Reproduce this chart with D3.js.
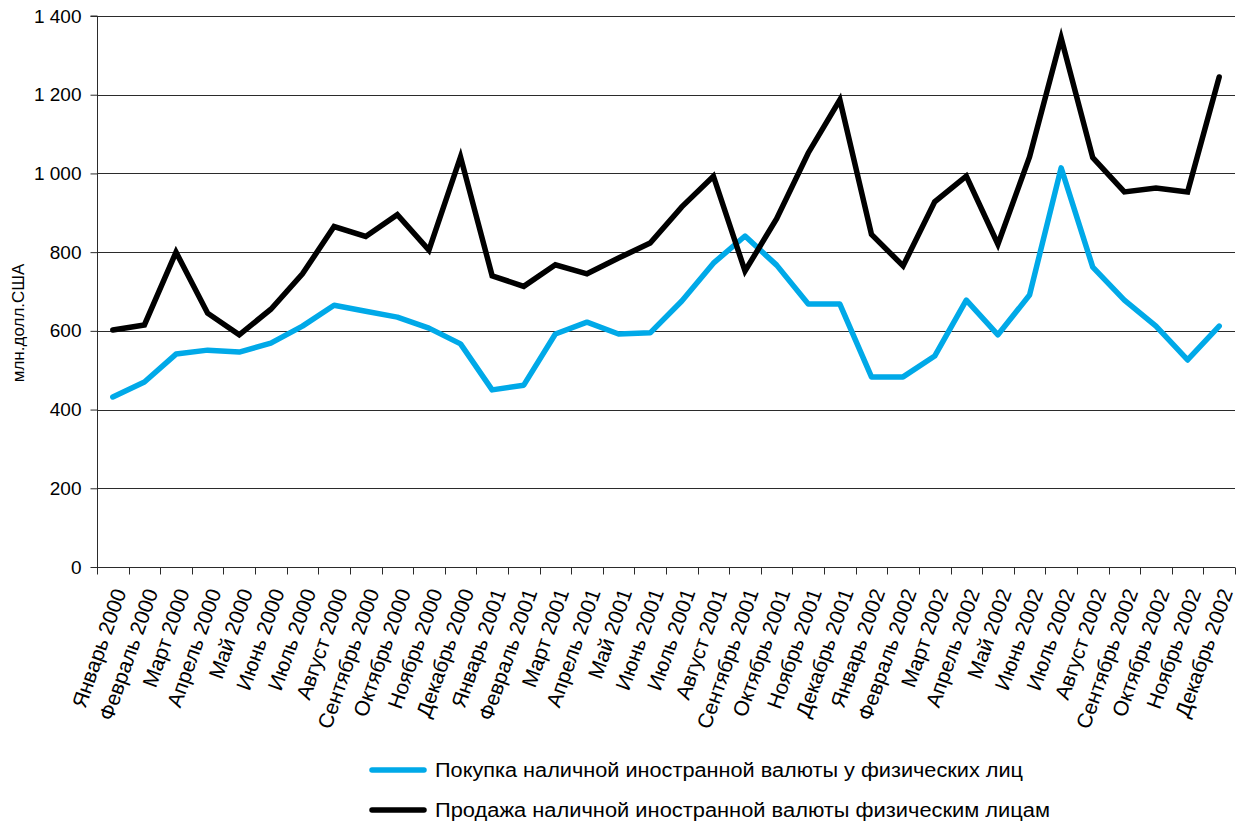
<!DOCTYPE html>
<html>
<head>
<meta charset="utf-8">
<script src="https://cdn.jsdelivr.net/npm/d3@7"></script>
<style>
  body { margin: 0; background: #fff; }
  svg { display: block; font-family: "Liberation Sans", Arial, Helvetica, sans-serif; }
</style>
</head>
<body>
<div id="chart"></div>
<script>
// Months and years for the category axis
const months = ["Январь", "Февраль", "Март", "Апрель", "Май", "Июнь",
                "Июль", "Август", "Сентябрь", "Октябрь", "Ноябрь", "Декабрь"];
const years = [2000, 2001, 2002];
const categories = years.flatMap(y => months.map(m => m + " " + y));

// Покупка наличной иностранной валюты у физических лиц (blue)
const buyValues = [432, 470, 541, 551, 546, 569, 612, 665, 650, 635, 607, 567,
                   450, 462, 592, 622, 592, 595, 676, 772, 841, 767, 668, 668,
                   483, 483, 536, 678, 590, 691, 1014, 762, 678, 612, 526, 612];

// Продажа наличной иностранной валюты физическим лицам (black)
const sellValues = [602, 615, 800, 645, 590, 655, 745, 865, 840, 895, 805, 1042,
                    740, 713, 768, 745, 785, 823, 915, 993, 752, 885, 1052, 1187,
                    845, 765, 928, 993, 820, 1042, 1344, 1040, 953, 963, 953, 1245];

const yTicks = [0, 200, 400, 600, 800, 1000, 1200, 1400];
const seriesNames = ["Покупка наличной иностранной валюты у физических лиц",
                     "Продажа наличной иностранной валюты физическим лицам"];
const titleText = "Покупка и продажа наличной иностранной валюты";

const width = 1239, height = 823;
const margin = { left: 97, right: 4, top: 16, bottom: 256 };
const blue = "#00a9e8";

const svg = d3.select("#chart").append("svg")
    .attr("width", width)
    .attr("height", height);

// Title is mostly cropped off at the top of the reference
svg.append("text")
    .attr("x", 623)
    .attr("y", -6)
    .attr("text-anchor", "middle")
    .attr("font-size", 22)
    .attr("font-weight", "bold")
    .attr("fill", blue)
    .text(titleText);

const x = d3.scaleBand()
    .domain(categories)
    .range([margin.left, width - margin.right]);

const y = d3.scaleLinear()
    .domain([0, 1400])
    .range([height - margin.bottom, margin.top]);

// Grid lines
svg.append("g")
    .selectAll("line")
    .data(yTicks.filter(d => d > 0))
    .join("line")
    .attr("x1", margin.left)
    .attr("x2", width - margin.right)
    .attr("y1", d => Math.round(y(d)) + 0.5)
    .attr("y2", d => Math.round(y(d)) + 0.5)
    .attr("stroke", "#2b2b2b")
    .attr("stroke-width", 1);

// Y axis
const yAxis = svg.append("g")
    .attr("transform", `translate(${margin.left + 0.5},0)`)
    .call(d3.axisLeft(y)
        .tickValues(yTicks)
        .tickSize(7)
        .tickPadding(9)
        .tickFormat(d => d3.format(",")(d).replace(",", " ")));
yAxis.select(".domain").attr("stroke", "#2b2b2b").attr("d", `M-7,${y(1400)}H0V${y(0)}`);
yAxis.selectAll(".tick line").attr("stroke", "#2b2b2b");
yAxis.selectAll(".tick text")
    .attr("font-size", 19)
    .attr("fill", "#000")
    .attr("font-family", "Liberation Sans, Arial, sans-serif");

// X axis with ticks on category boundaries
const xAxisG = svg.append("g")
    .attr("transform", `translate(0,${Math.round(y(0)) + 0.5})`);
xAxisG.append("line")
    .attr("x1", margin.left)
    .attr("x2", width - margin.right)
    .attr("stroke", "#2b2b2b");
xAxisG.selectAll(".xtick")
    .data(categories.concat(["end"]))
    .join("line")
    .attr("x1", (d, i) => Math.round(margin.left + i * x.bandwidth()) + 0.5)
    .attr("x2", (d, i) => Math.round(margin.left + i * x.bandwidth()) + 0.5)
    .attr("y1", 0)
    .attr("y2", 7)
    .attr("stroke", "#2b2b2b");
xAxisG.selectAll(".xlabel")
    .data(categories)
    .join("text")
    .attr("transform", d => `translate(${x(d) + x.bandwidth() / 2 + 7},${22}) rotate(-70.5)`)
    .attr("text-anchor", "end")
    .attr("dy", "0.35em")
    .attr("font-size", 21)
    .attr("fill", "#000")
    .text(d => d);

// Y axis title
svg.append("text")
    .attr("transform", `translate(24,${323}) rotate(-90)`)
    .attr("text-anchor", "middle")
    .attr("font-size", 17)
    .attr("fill", "#000")
    .text("млн.долл.США");

// Lines
const line = d3.line()
    .x((d, i) => x(categories[i]) + x.bandwidth() / 2)
    .y(d => y(d));

svg.append("path")
    .datum(buyValues)
    .attr("d", line)
    .attr("fill", "none")
    .attr("stroke", blue)
    .attr("stroke-width", 5.5)
    .attr("stroke-linejoin", "round")
    .attr("stroke-linecap", "round");

svg.append("path")
    .datum(sellValues)
    .attr("d", line)
    .attr("fill", "none")
    .attr("stroke", "#000")
    .attr("stroke-width", 5.5)
    .attr("stroke-linejoin", "miter")
    .attr("stroke-linecap", "round");

// Legend
const legendColors = [blue, "#000"];
const legendWidths = [588, 615];
const legend = svg.append("g");
seriesNames.forEach((name, i) => {
    const ly = 770 + i * 40;
    legend.append("line")
        .attr("x1", 372).attr("x2", 424)
        .attr("y1", ly).attr("y2", ly)
        .attr("stroke", legendColors[i])
        .attr("stroke-width", 5.5)
        .attr("stroke-linecap", "round");
    legend.append("text")
        .attr("x", 435)
        .attr("y", ly + 7)
        .attr("font-size", 20)
        .attr("fill", "#000")
        .attr("textLength", legendWidths[i])
        .attr("lengthAdjust", "spacingAndGlyphs")
        .text(name);
});
</script>
</body>
</html>
